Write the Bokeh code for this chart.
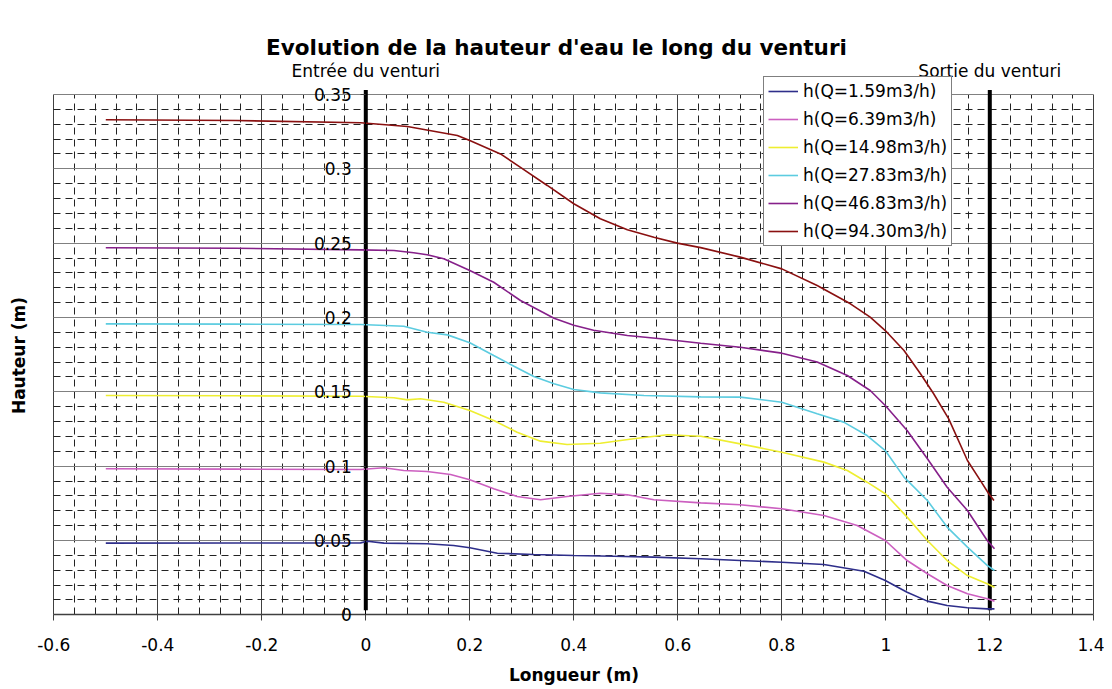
import math
from bokeh.plotting import figure
from bokeh.models import FixedTicker, CustomJSTickFormatter, Label, Legend, LegendItem
from bokeh.embed import file_html
from bokeh.resources import INLINE

# ---------------- data ----------------
series_labels = ["h(Q=1.59m3/h)", "h(Q=6.39m3/h)", "h(Q=14.98m3/h)",
                 "h(Q=27.83m3/h)", "h(Q=46.83m3/h)", "h(Q=94.30m3/h)"]
series_colors = ["#2E2E8A", "#CC5FC0", "#EEEE30", "#5CCCE0", "#86208A", "#8A1010"]

x_q159 = [-0.5, -0.25, -0.01, 0.003, 0.035, 0.118, 0.169, 0.2, 0.253, 0.323, 0.40, 0.477,
          0.554, 0.644, 0.72, 0.80, 0.881, 0.958, 0.999, 1.041, 1.08, 1.118, 1.157, 1.195, 1.209]
h_q159 = [0.0482, 0.0483, 0.0484, 0.0495, 0.0482, 0.0478, 0.0466, 0.0451, 0.0414, 0.0406, 0.0399,
          0.0394, 0.0388, 0.0377, 0.0365, 0.0354, 0.0338, 0.0293, 0.0231, 0.0152, 0.0092, 0.0063,
          0.0047, 0.0040, 0.0040]

x_q639 = [-0.5, -0.25, -0.01, 0.035, 0.073, 0.118, 0.163, 0.2, 0.246, 0.291, 0.336, 0.387, 0.451,
          0.503, 0.554, 0.644, 0.72, 0.80, 0.881, 0.945, 0.999, 1.041, 1.08, 1.118, 1.157, 1.195, 1.209]
h_q639 = [0.0982, 0.0980, 0.0977, 0.0989, 0.0971, 0.0964, 0.0944, 0.0908, 0.0848, 0.0796, 0.0774,
          0.0796, 0.0818, 0.0807, 0.0774, 0.0753, 0.0740, 0.0713, 0.0668, 0.0601, 0.0500, 0.0365,
          0.0276, 0.0197, 0.0141, 0.0108, 0.0092]

x_q1498 = [-0.5, -0.25, -0.01, 0.054, 0.08, 0.105, 0.15, 0.2, 0.246, 0.291, 0.336, 0.387, 0.451,
           0.515, 0.58, 0.644, 0.72, 0.80, 0.881, 0.926, 0.964, 0.999, 1.041, 1.08, 1.118, 1.157,
           1.195, 1.209]
h_q1498 = [0.1475, 0.1473, 0.1470, 0.1460, 0.1446, 0.1453, 0.1430, 0.1374, 0.1307, 0.1228, 0.1168,
           0.1146, 0.1154, 0.1184, 0.1211, 0.1201, 0.1150, 0.1094, 0.1027, 0.0971, 0.0892, 0.0814,
           0.0657, 0.0500, 0.0365, 0.0264, 0.0209, 0.0186]

x_q2783 = [-0.5, -0.25, -0.01, 0.073, 0.118, 0.157, 0.2, 0.246, 0.285, 0.323, 0.362, 0.40, 0.451,
           0.535, 0.644, 0.72, 0.80, 0.868, 0.919, 0.964, 0.999, 1.035, 1.08, 1.118, 1.157, 1.195, 1.209]
h_q2783 = [0.1957, 0.1955, 0.1953, 0.1941, 0.1901, 0.1883, 0.1830, 0.1744, 0.1672, 0.1603, 0.1554,
           0.1516, 0.1493, 0.1475, 0.1466, 0.1464, 0.1430, 0.1352, 0.1296, 0.1206, 0.1105, 0.0926,
           0.0769, 0.0590, 0.0455, 0.0332, 0.0298]

x_q4683 = [-0.5, -0.25, -0.01, 0.054, 0.092, 0.118, 0.15, 0.2, 0.246, 0.2975, 0.362, 0.40, 0.438,
           0.503, 0.567, 0.644, 0.72, 0.80, 0.868, 0.926, 0.97, 0.999, 1.041, 1.08, 1.118, 1.157,
           1.195, 1.209]
h_q4683 = [0.2469, 0.2466, 0.2455, 0.2451, 0.2435, 0.2422, 0.2395, 0.2316, 0.2237, 0.2114, 0.1995,
           0.1948, 0.1914, 0.1879, 0.1857, 0.1827, 0.1800, 0.1760, 0.1700, 0.1610, 0.1509, 0.1408,
           0.1240, 0.1050, 0.0858, 0.0702, 0.0500, 0.0444]

x_q9430 = [-0.5, -0.25, -0.01, 0.08, 0.176, 0.2, 0.259, 0.2975, 0.349, 0.40, 0.451, 0.503, 0.554,
           0.599, 0.644, 0.72, 0.80, 0.868, 0.932, 0.97, 0.999, 1.035, 1.067, 1.092, 1.121, 1.157,
           1.182, 1.198, 1.208]
h_q9430 = [0.3330, 0.3325, 0.3310, 0.3285, 0.3224, 0.3190, 0.3100, 0.3010, 0.2888, 0.2765, 0.2664,
           0.2590, 0.2540, 0.2500, 0.2470, 0.2406, 0.2327, 0.2215, 0.2092, 0.2002, 0.1912, 0.1778,
           0.1620, 0.1487, 0.1318, 0.1038, 0.0903, 0.0814, 0.0769]

xs_all = [x_q159, x_q639, x_q1498, x_q2783, x_q4683, x_q9430]
hs_all = [h_q159, h_q639, h_q1498, h_q2783, h_q4683, h_q9430]

venturi_x = [0.0, 1.2]
venturi_labels = ["Entrée du venturi", "Sortie du venturi"]

x_ticks = [-0.6, -0.4, -0.2, 0.0, 0.2, 0.4, 0.6, 0.8, 1.0, 1.2, 1.4]
y_ticks = [0.0, 0.05, 0.1, 0.15, 0.2, 0.25, 0.3, 0.35]
x_minor = [round(-0.6 + 0.04 * i, 4) for i in range(51) if i % 5 != 0]
y_minor = [round(0.01 * i, 4) for i in range(36) if i % 5 != 0]

FONT = "DejaVu Sans"

# ---------------- figure ----------------
# the frame spans the whole figure; the plotting area is bounded via axis/grid bounds
p = figure(width=1104, height=687, x_range=(-0.70250, 1.42058), y_range=(-0.04890, 0.41322),
           output_backend="svg", toolbar_location=None,
           min_border_left=0, min_border_right=0, min_border_top=0, min_border_bottom=0)
p.background_fill_color = "white"
p.border_fill_color = "white"
p.outline_line_color = None

fmt = CustomJSTickFormatter(code="return String(parseFloat(tick.toFixed(3)));")

# grids (limited to the plotting area)
p.xgrid.ticker = FixedTicker(ticks=x_ticks, minor_ticks=x_minor)
p.ygrid.ticker = FixedTicker(ticks=y_ticks, minor_ticks=y_minor)
p.xgrid.bounds = (x_ticks[0], x_ticks[-1])
p.xgrid.cross_bounds = (y_ticks[0], y_ticks[-1])
p.ygrid.bounds = (y_ticks[0], y_ticks[-1])
p.ygrid.cross_bounds = (x_ticks[0], x_ticks[-1])
p.xgrid.grid_line_color = "#404040"
p.ygrid.grid_line_color = "#808080"
for g in (p.xgrid, p.ygrid):
    g.grid_line_width = 1
    g.minor_grid_line_color = "#222222"
    g.minor_grid_line_width = 1
    g.minor_grid_line_dash = "7 5"

# x axis at y = 0
p.xaxis.fixed_location = 0
p.xaxis.bounds = (x_ticks[0], x_ticks[-1])
p.xaxis.ticker = FixedTicker(ticks=x_ticks)
p.xaxis.formatter = fmt
p.xaxis.major_tick_out = 6
p.xaxis.major_tick_in = 0
p.xaxis.minor_tick_out = 0
p.xaxis.minor_tick_in = 0
p.xaxis.axis_line_color = "#404040"
p.xaxis.axis_line_width = 1.5
p.xaxis.major_tick_line_color = "#404040"
p.xaxis.major_label_text_font = FONT
p.xaxis.major_label_text_font_size = "17px"
p.xaxis.major_label_text_color = "black"
p.xaxis.major_label_standoff = 17

# y axis at x = 0
p.yaxis.fixed_location = 0
p.yaxis.bounds = (y_ticks[0], y_ticks[-1])
p.yaxis.ticker = FixedTicker(ticks=y_ticks)
p.yaxis.formatter = fmt
p.yaxis.major_tick_out = 5
p.yaxis.major_tick_in = 0
p.yaxis.minor_tick_out = 0
p.yaxis.minor_tick_in = 0
p.yaxis.axis_line_color = "black"
p.yaxis.major_tick_line_color = "#404040"
p.yaxis.major_label_text_font = FONT
p.yaxis.major_label_text_font_size = "17px"
p.yaxis.major_label_text_color = "black"
p.yaxis.major_label_standoff = 9

# venturi entry / exit thick lines
p.segment(x0=venturi_x, y0=[0.003, 0.003], x1=venturi_x, y1=[0.353, 0.353],
          line_color="black", line_width=4)

renderers = []
for xs, hs, c in zip(xs_all, hs_all, series_colors):
    r = p.line(xs, hs, line_color=c, line_width=1.6)
    renderers.append(r)

legend = Legend(items=[LegendItem(label=l, renderers=[r]) for l, r in zip(series_labels, renderers)],
                location=(763, 441))
legend.label_text_font = FONT
legend.label_text_font_size = "17px"
legend.label_text_color = "black"
legend.glyph_width = 30
legend.glyph_height = 20
legend.label_height = 20
legend.label_standoff = 5
legend.spacing = 8
legend.padding = 4
legend.margin = 0
legend.border_line_color = "black"
legend.border_line_width = 1
legend.background_fill_color = "white"
legend.background_fill_alpha = 1
p.add_layout(legend)

# texts
p.add_layout(Label(x=0.3667, y=0.3816, text="Evolution de la hauteur d'eau le long du venturi",
                   text_font=FONT, text_font_size="21.5px", text_font_style="bold",
                   text_align="center", text_baseline="middle", text_color="black"))
for vx, vl in zip(venturi_x, venturi_labels):
    p.add_layout(Label(x=vx, y=0.3661, text=vl, text_font=FONT, text_font_size="17px",
                       text_align="center", text_baseline="middle", text_color="black"))
p.add_layout(Label(x=0.4004, y=-0.0402, text="Longueur (m)", text_font=FONT, text_font_size="17px",
                   text_font_style="bold", text_align="center", text_baseline="middle",
                   text_color="black"))
p.add_layout(Label(x=-0.666, y=0.1744, text="Hauteur (m)", text_font=FONT, text_font_size="17px",
                   text_font_style="bold", text_align="center", text_baseline="middle",
                   angle=math.pi / 2, text_color="black"))

open("out.html", "w").write(file_html(p, INLINE))
